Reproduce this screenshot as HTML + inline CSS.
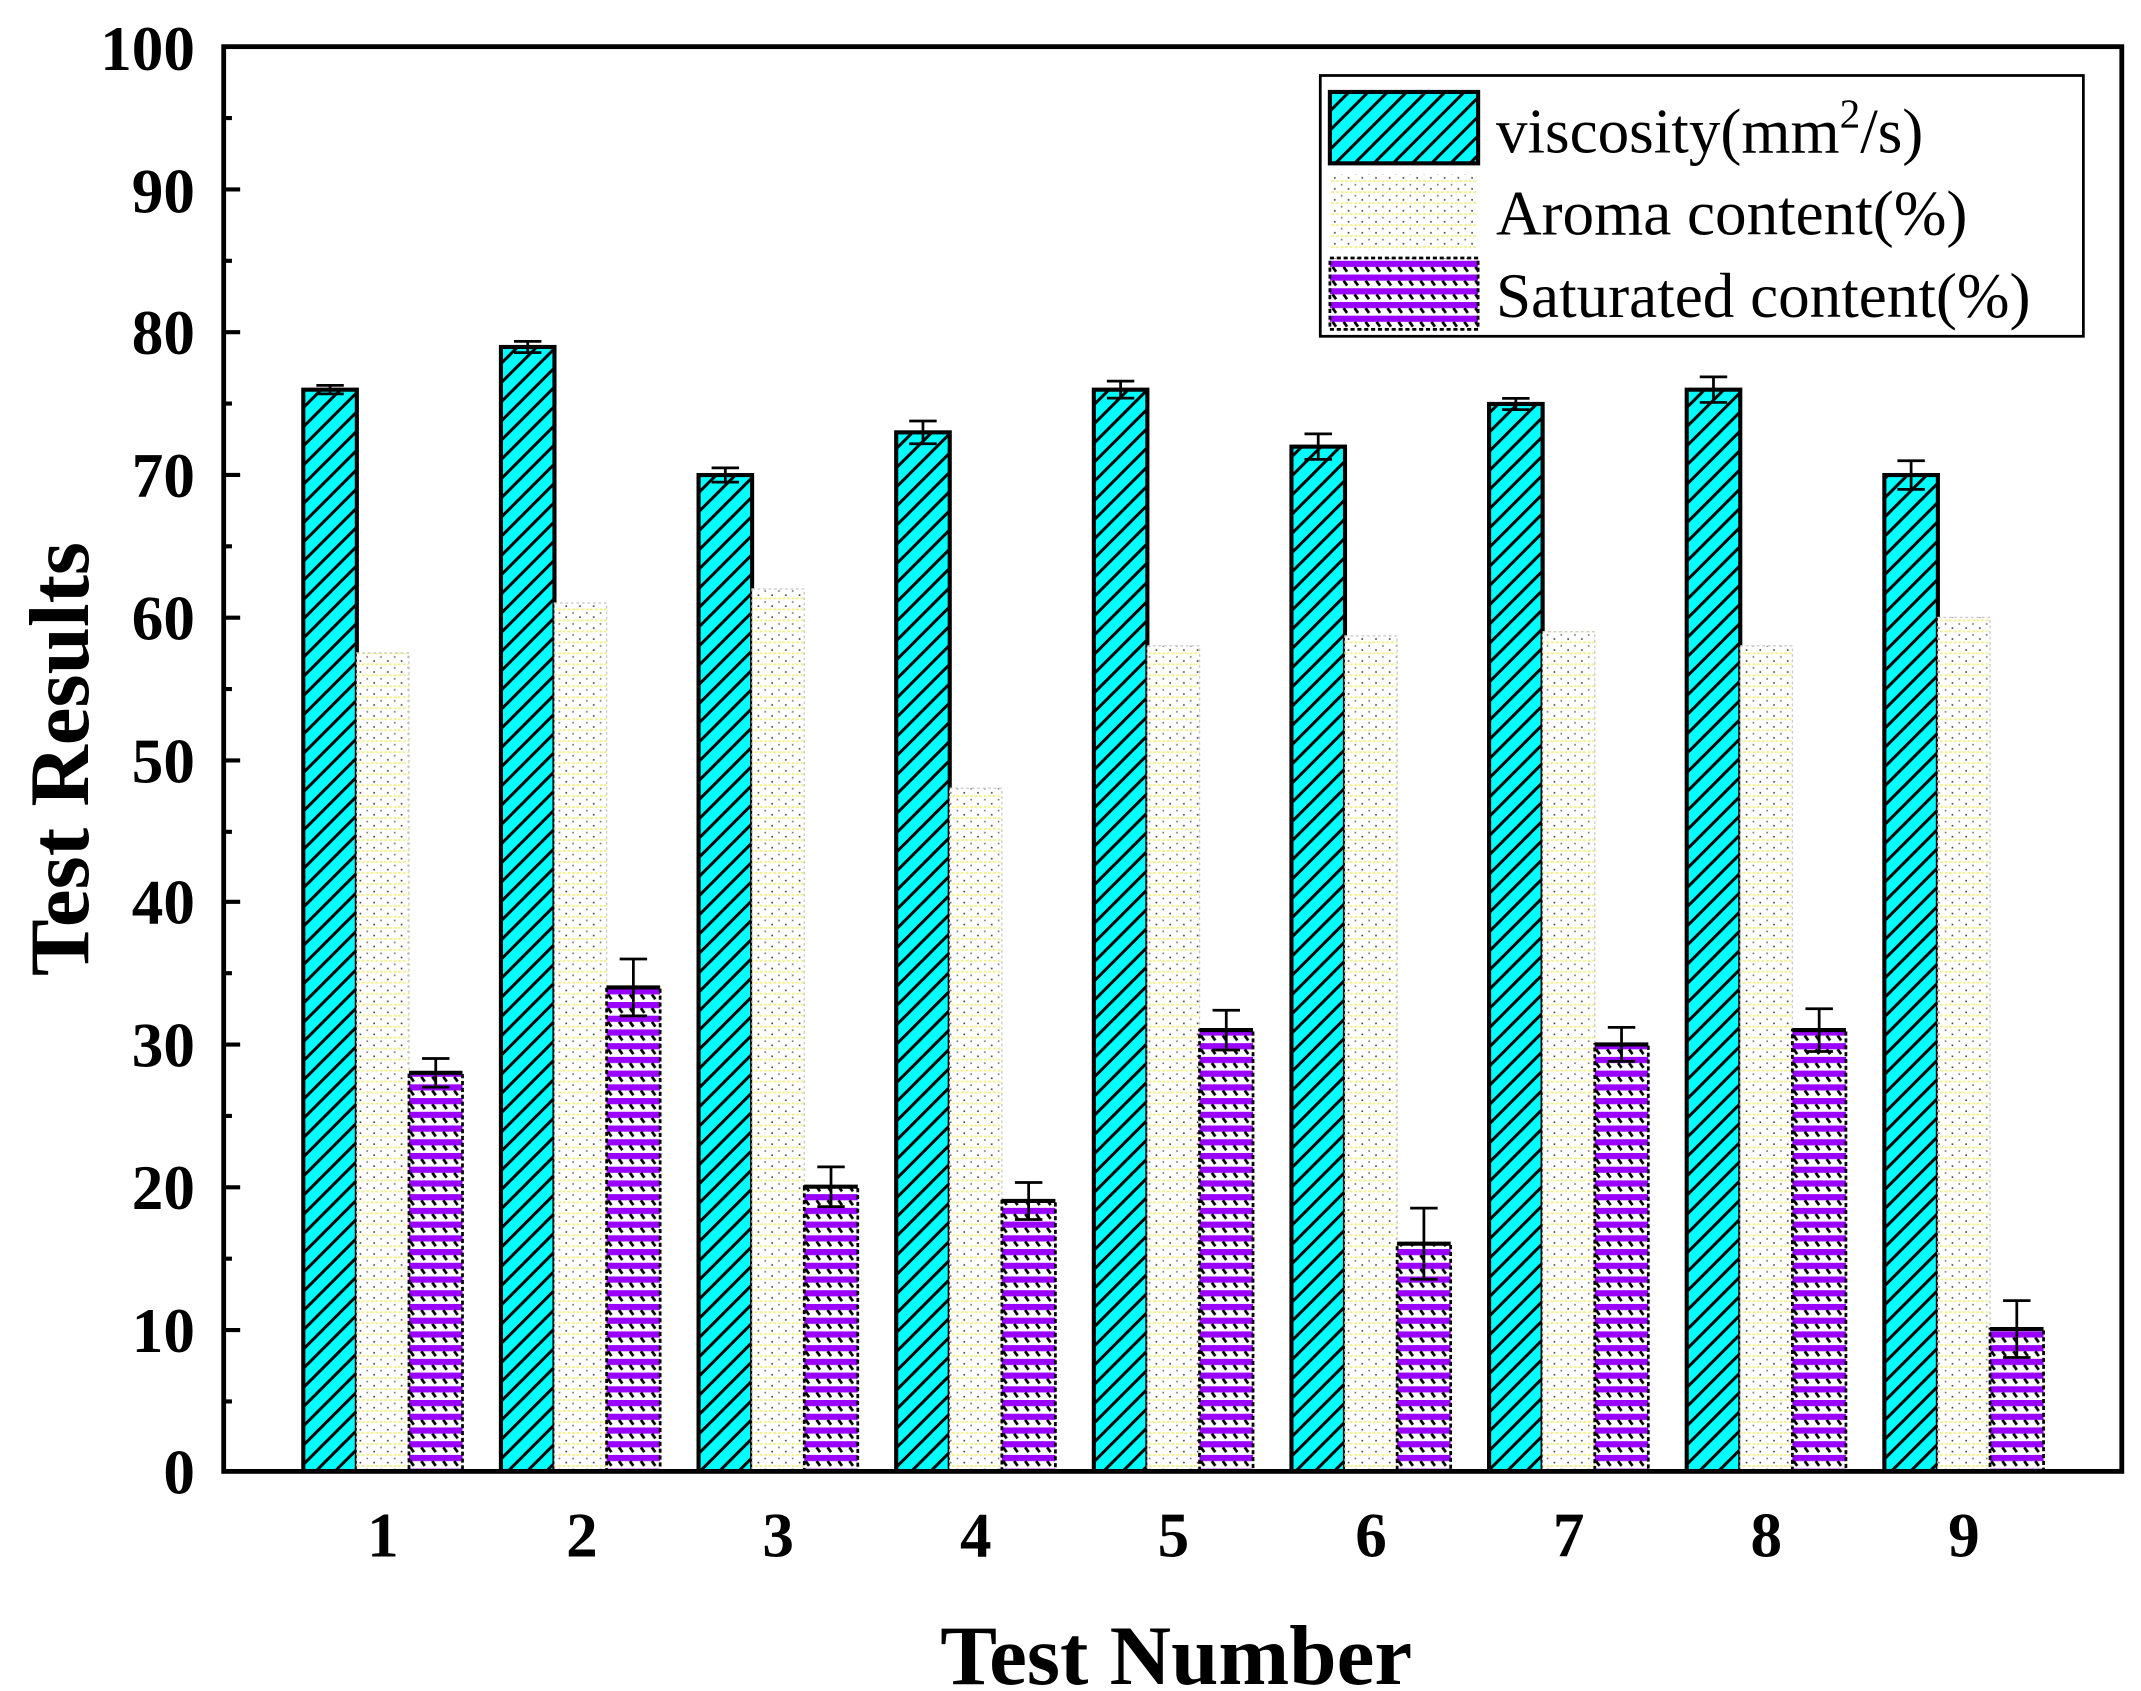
<!DOCTYPE html>
<html><head><style>body{margin:0;background:#fff}svg{display:block}</style></head><body>
<svg width="2141" height="1691" viewBox="0 0 1560 1232" preserveAspectRatio="none" xmlns="http://www.w3.org/2000/svg" font-family="Liberation Serif, serif">
<defs>
<pattern id="hv" patternUnits="userSpaceOnUse" width="14" height="14"><rect width="14" height="14" fill="#00ffff"/><path d="M-3,17 L17,-3 M-3,3 L3,-3 M11,17 L17,11" stroke="#000" stroke-width="2.2"/></pattern>
<pattern id="ha" patternUnits="userSpaceOnUse" width="10" height="8"><rect width="10" height="8" fill="#fff"/><path d="M0,4 H10" stroke="#f5ef80" stroke-width="1.2" stroke-dasharray="2,1.5"/><rect x="2" y="1" width="1.2" height="1.2" fill="#444"/><rect x="7" y="6" width="1.2" height="1.2" fill="#777"/></pattern>
<pattern id="hs" patternUnits="userSpaceOnUse" width="16" height="10"><rect width="16" height="10" fill="#fff"/><rect y="0" width="16" height="4.5" fill="#9900ff"/><path d="M3,4.5 L5.5,8 M11,4.5 L13.5,8" stroke="#000" stroke-width="2"/></pattern>
</defs>
<g stroke="#000" stroke-width="3">
<rect x="221" y="283.9" width="39" height="788.1" fill="url(#hv)"/>
<rect x="365" y="252.8" width="39" height="819.2" fill="url(#hv)"/>
<rect x="509" y="346.1" width="39" height="725.9" fill="url(#hv)"/>
<rect x="653" y="315.0" width="39" height="757.0" fill="url(#hv)"/>
<rect x="797" y="283.9" width="39" height="788.1" fill="url(#hv)"/>
<rect x="941" y="325.4" width="39" height="746.6" fill="url(#hv)"/>
<rect x="1085" y="294.3" width="39" height="777.7" fill="url(#hv)"/>
<rect x="1229" y="283.9" width="39" height="788.1" fill="url(#hv)"/>
<rect x="1373" y="346.1" width="39" height="725.9" fill="url(#hv)"/>
</g>
<g stroke="#ccc" stroke-width="1" stroke-dasharray="2,2">
<rect x="260" y="475.7" width="38" height="596.3" fill="url(#ha)"/>
<rect x="404" y="439.4" width="38" height="632.6" fill="url(#ha)"/>
<rect x="548" y="429.1" width="38" height="642.9" fill="url(#ha)"/>
<rect x="692" y="574.2" width="38" height="497.8" fill="url(#ha)"/>
<rect x="836" y="470.5" width="38" height="601.5" fill="url(#ha)"/>
<rect x="980" y="463.3" width="38" height="608.7" fill="url(#ha)"/>
<rect x="1124" y="460.2" width="38" height="611.8" fill="url(#ha)"/>
<rect x="1268" y="470.5" width="38" height="601.5" fill="url(#ha)"/>
<rect x="1412" y="449.8" width="38" height="622.2" fill="url(#ha)"/>
</g>
<g stroke="#000" stroke-width="2" stroke-dasharray="3,2">
<rect x="298" y="781.6" width="39" height="290.4" fill="url(#hs)"/>
<rect x="442" y="719.4" width="39" height="352.6" fill="url(#hs)"/>
<rect x="586" y="864.6" width="39" height="207.4" fill="url(#hs)"/>
<rect x="730" y="875.0" width="39" height="197.0" fill="url(#hs)"/>
<rect x="874" y="750.5" width="39" height="321.5" fill="url(#hs)"/>
<rect x="1018" y="906.1" width="39" height="165.9" fill="url(#hs)"/>
<rect x="1162" y="760.9" width="39" height="311.1" fill="url(#hs)"/>
<rect x="1306" y="750.5" width="39" height="321.5" fill="url(#hs)"/>
<rect x="1450" y="968.3" width="39" height="103.7" fill="url(#hs)"/>
</g>
<g stroke="#000" stroke-width="3">
<path d="M298,781.6h39M442,719.4h39M586,864.6h39M730,875h39M874,750.5h39M1018,906.1h39M1162,760.9h39M1306,750.5h39M1450,968.3h39"/>
</g>
<g stroke="#000" stroke-width="2" fill="none">
<path d="M240.5,280.8V287M230.5,280.8h20M230.5,287h20"/>
<path d="M384.5,248.7V256.9M374.5,248.7h20M374.5,256.9h20"/>
<path d="M528.5,340.9V351.3M518.5,340.9h20M518.5,351.3h20"/>
<path d="M672.5,306.7V323.3M662.5,306.7h20M662.5,323.3h20"/>
<path d="M816.5,277.7V290.1M806.5,277.7h20M806.5,290.1h20"/>
<path d="M960.5,316.1V334.7M950.5,316.1h20M950.5,334.7h20"/>
<path d="M1104.5,290.2V298.4M1094.5,290.2h20M1094.5,298.4h20"/>
<path d="M1248.5,274.6V293.2M1238.5,274.6h20M1238.5,293.2h20"/>
<path d="M1392.5,335.7V356.5M1382.5,335.7h20M1382.5,356.5h20"/>
<path d="M317.5,771.2V792M307.5,771.2h20M307.5,792h20"/>
<path d="M461.5,698.7V740.1M451.5,698.7h20M451.5,740.1h20"/>
<path d="M605.5,850.1V879.1M595.5,850.1h20M595.5,879.1h20"/>
<path d="M749.5,861.5V888.5M739.5,861.5h20M739.5,888.5h20"/>
<path d="M893.5,736V765M883.5,736h20M883.5,765h20"/>
<path d="M1037.5,880.2V932M1027.5,880.2h20M1027.5,932h20"/>
<path d="M1181.5,748.5V773.3M1171.5,748.5h20M1171.5,773.3h20"/>
<path d="M1325.5,734.9V766.1M1315.5,734.9h20M1315.5,766.1h20"/>
<path d="M1469.5,947.6V989M1459.5,947.6h20M1459.5,989h20"/>
</g>
<rect x="163" y="34" width="1383" height="1038" fill="none" stroke="#000" stroke-width="3.5"/>
<g stroke="#000" stroke-width="3">
<path d="M163,138h12M163,242h12M163,346h12M163,450h12M163,554h12M163,657h12M163,761h12M163,865h12M163,969h12"/>
<path d="M163,86h6M163,190h6M163,294h6M163,398h6M163,502h6M163,606h6M163,709h6M163,813h6M163,917h6M163,1021h6"/>
</g>
<g font-size="46" font-weight="bold" text-anchor="end">
<text x="142" y="51">100</text><text x="142" y="155">90</text><text x="142" y="258">80</text><text x="142" y="362">70</text><text x="142" y="466">60</text><text x="142" y="570">50</text><text x="142" y="673">40</text><text x="142" y="777">30</text><text x="142" y="881">20</text><text x="142" y="985">10</text><text x="142" y="1088">0</text>
</g>
<g font-size="46" font-weight="bold" text-anchor="middle">
<text x="279" y="1134">1</text><text x="424" y="1134">2</text><text x="567" y="1134">3</text><text x="711" y="1134">4</text><text x="855" y="1134">5</text><text x="999" y="1134">6</text><text x="1143" y="1134">7</text><text x="1287" y="1134">8</text><text x="1431" y="1134">9</text>
</g>
<text x="857" y="1227" font-size="62" font-weight="bold" text-anchor="middle">Test Number</text>
<text transform="translate(64,553) rotate(-90)" font-size="62" font-weight="bold" text-anchor="middle">Test Results</text>
<rect x="962" y="55" width="556" height="190" fill="#fff" stroke="#000" stroke-width="2"/>
<rect x="969" y="67" width="108" height="52" fill="url(#hv)" stroke="#000" stroke-width="3"/>
<rect x="969" y="127" width="108" height="55" fill="url(#ha)"/>
<rect x="969" y="188" width="108" height="52" fill="url(#hs)" stroke="#000" stroke-width="2" stroke-dasharray="3,2"/>
<g font-size="46">
<text x="1090" y="111">viscosity(mm<tspan dy="-18" font-size="30">2</tspan><tspan dy="18">/s)</tspan></text>
<text x="1090" y="171">Aroma content(%)</text>
<text x="1090" y="231">Saturated content(%)</text>
</g>
</svg>
</body></html>
